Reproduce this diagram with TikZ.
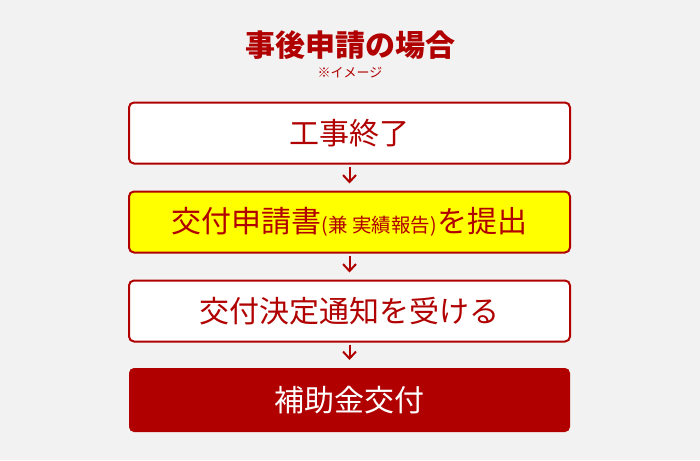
\documentclass[tikz,border=0pt]{standalone}
\usepackage{fontspec}
\usetikzlibrary{chains,arrows.meta,positioning}
\newfontfamily\cjk{Noto Sans CJK JP}
\definecolor{bg}{HTML}{F2F2F2}
\definecolor{darkred}{HTML}{B00000}
\definecolor{boxyellow}{HTML}{FFFF00}

\begin{document}
\begin{tikzpicture}[x=1pt, y=-1pt, >={Straight Barb[length=7pt,width=13pt,line width=2pt]},
          start chain=going below, node distance=28pt,
          step box/.style={rectangle, draw=darkred, line width=2pt, rounded corners=5pt,
            minimum width=441pt, minimum height=61pt, outer sep=0pt,
            font=\cjk\fontsize{30}{34}\selectfont, text=darkred},
          last box/.style={step box, draw=none, fill=darkred, text=white,
            minimum height=64pt}]

          \fill[bg] (0,0) rectangle (700,460);
          \useasboundingbox (0,0) rectangle (700,460);

          \node[font=\cjk\bfseries\fontsize{30}{34}\selectfont, text=darkred] (title) at (350,45) {事後申請の場合};
          \node[font=\cjk\fontsize{13}{15}\selectfont, text=darkred] (note) at (350,73) {※イメージ};

          \node[step box, fill=white, on chain] (1) at (349.5,133) {工事終了};
          \node[step box, fill=boxyellow, on chain] (2) {交付申請書{\fontsize{19.5}{22}\selectfont(兼 実績報告)}を提出};
          \node[step box, fill=white, on chain] (3) {交付決定通知を受ける};
          \node[last box, on chain, yshift=1.5pt] (4) {補助金交付};

          \foreach \a/\b in {1/2,2/3,3/4}
            \draw[->, darkred, line width=2pt, shorten <=3pt, shorten >=8pt] (\a) -- (\b);
        \end{tikzpicture}
\end{document}
